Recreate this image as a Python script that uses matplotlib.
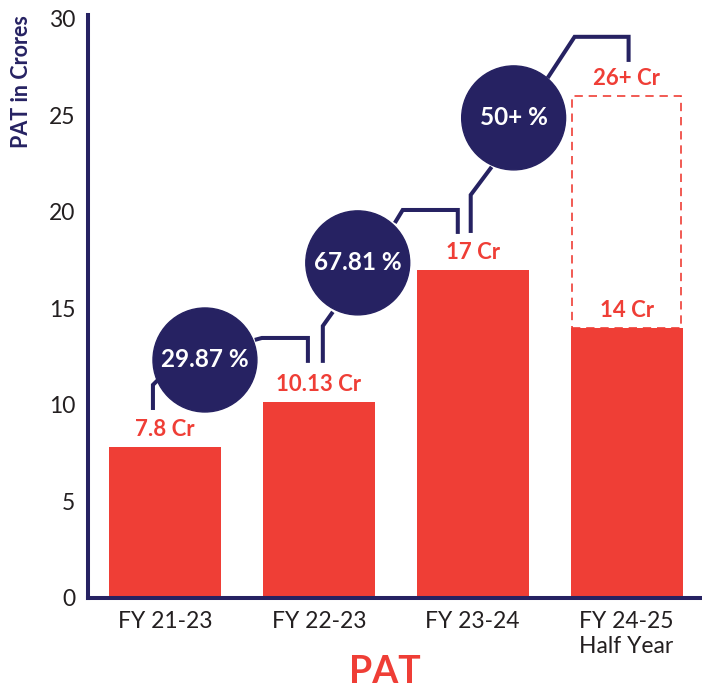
#!/usr/bin/env python3
"""PAT growth bar chart with growth-rate bubbles."""

import matplotlib

matplotlib.use("Agg")
import matplotlib.pyplot as plt
from matplotlib.patches import Ellipse

categories = ["FY 21-23", "FY 22-23", "FY 23-24", "FY 24-25\nHalf Year"]
pat_values = [7.8, 10.13, 17, 14]
pat_labels = ["7.8 Cr", "10.13 Cr", "17 Cr", "14 Cr"]
target_value = 26
target_label = "26+ Cr"
growth_labels = ["29.87 %", "67.81 %", "50+ %"]

RED = "#EF3E36"
NAVY = "#262262"
DARK = "#231F20"

# bubble centres (x in category units, y in crores) and connector paths
bubble_centres = [(0.26, 12.33), (1.253, 17.36), (2.266, 24.87)]
connectors = [
    [(-0.078, 9.74), (-0.078, 11.04), (-0.045, 11.30)],
    [(0.584, 13.37), (0.630, 13.47), (0.929, 13.47), (0.929, 12.18)],
    [(1.091, 14.82), (1.026, 14.09), (1.026, 12.18)],
    [(1.494, 19.43), (1.545, 20.10), (1.903, 20.10), (1.903, 18.86)],
    [(2.123, 22.33), (1.987, 20.88), (1.987, 18.91)],
    [(2.487, 26.94), (2.662, 29.07), (3.013, 29.07), (3.013, 27.77)],
]

plt.rcParams["font.family"] = ["Lato", "DejaVu Sans"]

fig = plt.figure(figsize=(7.02, 6.90), dpi=100)
ax = fig.add_axes([88 / 702, 1 - 598 / 690, 614 / 702, 583 / 690])

x = list(range(len(categories)))
ax.bar(x, pat_values, width=0.727, color=RED, zorder=2)
ax.bar(x[-1], target_value - pat_values[-1], bottom=pat_values[-1], width=0.71,
       fill=False, edgecolor=RED, linestyle=(0, (5, 3.5)), linewidth=1.2, zorder=1)

for xi, val, lab in zip(x, pat_values, pat_labels):
    ax.annotate(lab, (xi, val), xytext=(0, 5), textcoords="offset points",
                ha="center", va="bottom", color=RED, fontsize=16,
                fontweight="bold")
ax.annotate(target_label, (x[-1], target_value), xytext=(0, 5),
            textcoords="offset points", ha="center", va="bottom", color=RED,
            fontsize=16, fontweight="bold")

ax.set_xlim(-0.5, 3.49)
ax.set_ylim(0, 30.2)

# bubble radius: 52 px, converted into data units on each axis
rx = 52 / 154
ry = 52 / (583 / 30.2)
for path in connectors:
    xs, ys = zip(*path)
    ax.plot(xs, ys, color=NAVY, linewidth=2.9, solid_capstyle="butt",
            solid_joinstyle="miter", zorder=3, clip_on=False)
for (cx, cy), lab in zip(bubble_centres, growth_labels):
    ax.add_patch(Ellipse((cx, cy), 2 * rx, 2 * ry, color=NAVY, zorder=4))
    ax.text(cx, cy, lab, ha="center", va="center", color="white",
            fontsize=17.5, fontweight="bold", zorder=5)

for side in ("top", "right"):
    ax.spines[side].set_visible(False)
for side in ("left", "bottom"):
    ax.spines[side].set_color(NAVY)
    ax.spines[side].set_linewidth(2.9)

ax.set_yticks([0, 5, 10, 15, 20, 25, 30])
ax.set_xticks(x)
ax.set_xticklabels(categories, linespacing=1.25)
ax.tick_params(axis="both", length=0, labelsize=16.5, labelcolor=DARK)
ax.tick_params(axis="y", pad=9)
ax.tick_params(axis="x", pad=9)

fig.text(22 / 702, 1 - 82 / 690, "PAT in Crores", rotation=90, ha="center",
         va="center", color=NAVY, fontsize=15.5, fontweight="bold")
fig.text(385 / 702, 1 / 690, "PAT", ha="center", va="bottom", color=RED,
         fontsize=27, fontweight="bold")

fig.savefig("out.png", dpi=100)
